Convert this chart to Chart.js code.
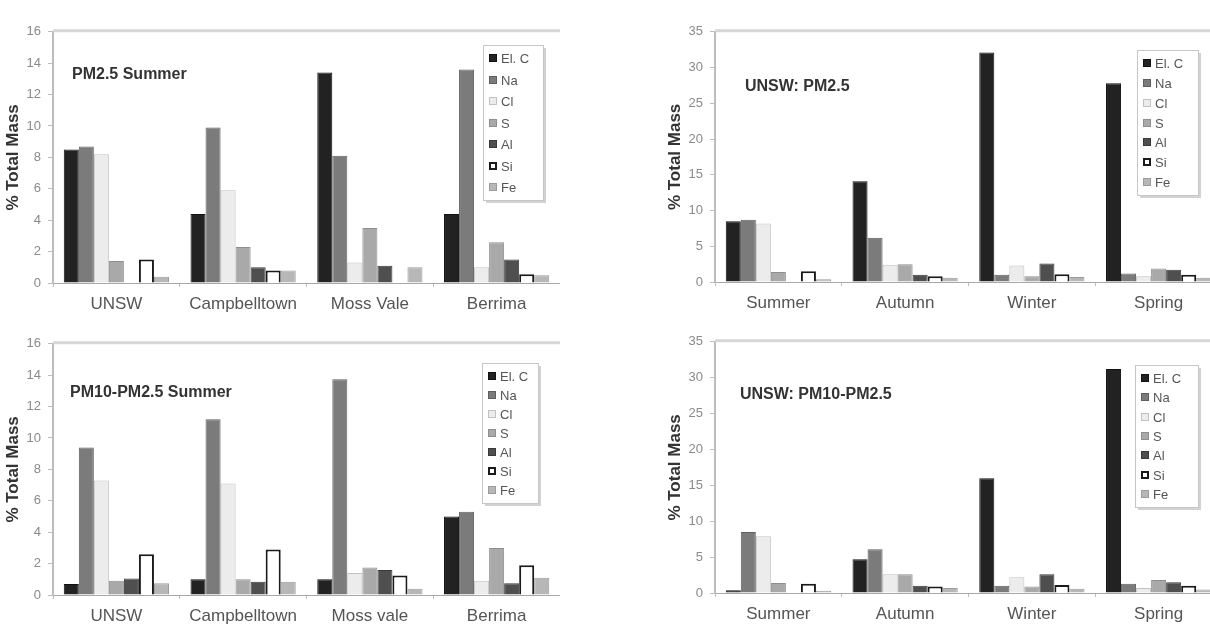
<!DOCTYPE html>
<html>
<head>
<meta charset="utf-8">
<script src="https://cdn.jsdelivr.net/npm/chart.js@4/dist/chart.umd.min.js"></script>
<style>
  html, body { margin: 0; padding: 0; background: #fff; overflow: hidden; width: 1210px; height: 624px; }
  .panel { position: absolute; }
</style>
</head>
<body>
<div class="panel" style="left:0;top:17px"><canvas id="pm25Sites" width="560" height="296"></canvas></div>
<div class="panel" style="left:662px;top:17px"><canvas id="pm25Seasons" width="560" height="295"></canvas></div>
<div class="panel" style="left:0;top:329px"><canvas id="coarseSites" width="560" height="296"></canvas></div>
<div class="panel" style="left:662px;top:327px"><canvas id="coarseSeasons" width="560" height="296"></canvas></div>
<script>
// Categories
const sitesFine = ['UNSW', 'Campbelltown', 'Moss Vale', 'Berrima'];
const sitesCoarse = ['UNSW', 'Campbelltown', 'Moss vale', 'Berrima'];
const seasons = ['Summer', 'Autumn', 'Winter', 'Spring'];
const species = ['El. C', 'Na', 'Cl', 'S', 'Al', 'Si', 'Fe'];

// PM2.5, summer, by site (% of total mass), one array per species
const fineSitesElC = [8.5, 4.4, 13.4, 4.4];
const fineSitesNa  = [8.7, 9.9, 8.1, 13.6];
const fineSitesCl  = [8.2, 5.9, 1.3, 1.0];
const fineSitesS   = [1.4, 2.3, 3.5, 2.6];
const fineSitesAl  = [0, 1.0, 1.1, 1.5];
const fineSitesSi  = [1.5, 0.8, 0, 0.55];
const fineSitesFe  = [0.4, 0.8, 1.0, 0.5];

// PM10-PM2.5, summer, by site
const coarseSitesElC = [0.7, 1.0, 1.0, 5.0];
const coarseSitesNa  = [9.4, 11.2, 13.75, 5.3];
const coarseSitesCl  = [7.3, 7.1, 1.4, 0.9];
const coarseSitesS   = [0.9, 1.0, 1.75, 3.0];
const coarseSitesAl  = [1.05, 0.85, 1.6, 0.75];
const coarseSitesSi  = [2.6, 2.9, 1.25, 1.9];
const coarseSitesFe  = [0.75, 0.85, 0.4, 1.1];

// UNSW PM2.5 by season
const fineSeasonElC = [8.5, 14.1, 32.1, 27.8];
const fineSeasonNa  = [8.7, 6.2, 1.0, 1.2];
const fineSeasonCl  = [8.2, 2.4, 2.3, 0.8];
const fineSeasonS   = [1.4, 2.5, 0.8, 1.9];
const fineSeasonAl  = [0, 1.0, 2.6, 1.7];
const fineSeasonSi  = [1.5, 0.8, 1.1, 1.0];
const fineSeasonFe  = [0.4, 0.6, 0.7, 0.6];

// UNSW PM10-PM2.5 by season
const coarseSeasonElC = [0.4, 4.7, 16.0, 31.2];
const coarseSeasonNa  = [8.5, 6.1, 1.0, 1.3];
const coarseSeasonCl  = [7.9, 2.6, 2.2, 0.7];
const coarseSeasonS   = [1.4, 2.6, 0.9, 1.8];
const coarseSeasonAl  = [0, 1.0, 2.6, 1.5];
const coarseSeasonSi  = [1.3, 0.9, 1.1, 1.0];
const coarseSeasonFe  = [0.3, 0.7, 0.6, 0.5];

// Y-axis ticks
const siteTicksMax = 16, siteTicksStep = 2;
const seasonTicksMax = 35, seasonTicksStep = 5;

const FONT = '"Liberation Sans", Arial, sans-serif';

// Fill / outline per species, in legend order
const speciesStyle = [
  { bg: '#222222', border: '#111111', w: 1 },
  { bg: '#7b7b7b', border: '#5f5f5f', w: 1 },
  { bg: '#ececec', border: '#c2c2c2', w: 1 },
  { bg: '#a9a9a9', border: '#8e8e8e', w: 1 },
  { bg: '#4f4f4f', border: '#3a3a3a', w: 1 },
  { bg: '#ffffff', border: '#1a1a1a', w: 2 },
  { bg: '#b7b7b7', border: '#9b9b9b', w: 1 }
];

function makeDatasets(series) {
  return series.map((values, i) => ({
    label: species[i],
    data: values,
    backgroundColor: speciesStyle[i].bg,
    borderColor: speciesStyle[i].border,
    borderWidth: speciesStyle[i].w,
    categoryPercentage: 0.83,
    barPercentage: 1.0
  }));
}

// In-plot title, top rule and boxed legend
const panelDecor = {
  id: 'panelDecor',
  afterDraw(chart, args, opts) {
    const { ctx, chartArea: a } = chart;
    ctx.save();
    ctx.strokeStyle = '#d6d6d6';
    ctx.lineWidth = 3;
    ctx.beginPath();
    ctx.moveTo(a.left, a.top - 1);
    ctx.lineTo(a.right, a.top - 1);
    ctx.stroke();

    ctx.font = 'bold 16px ' + FONT;
    ctx.fillStyle = '#333';
    ctx.textAlign = 'left';
    ctx.textBaseline = 'middle';
    ctx.fillText(opts.title, a.left + opts.titleX, a.top + opts.titleY);

    const L = opts.legend;
    const bx = Math.round(a.left + L.x), by = Math.round(a.top + L.y);
    ctx.fillStyle = '#d2d2d2';
    ctx.fillRect(bx + L.w, by + 3, 3, L.h);
    ctx.fillRect(bx + 3, by + L.h, L.w, 3);
    ctx.fillStyle = '#fff';
    ctx.fillRect(bx, by, L.w, L.h);
    ctx.strokeStyle = '#c6c6c6';
    ctx.lineWidth = 1;
    ctx.strokeRect(bx + 0.5, by + 0.5, L.w, L.h);
    const step = (L.h - 26) / 6;
    chart.data.datasets.forEach((ds, i) => {
      const cy = Math.round(by + 13 + i * step);
      ctx.fillStyle = ds.backgroundColor;
      ctx.fillRect(bx + 6, cy - 4, 8, 8);
      ctx.strokeStyle = ds.borderColor;
      ctx.lineWidth = ds.borderWidth;
      ctx.strokeRect(bx + 6 + ds.borderWidth / 2, cy - 4 + ds.borderWidth / 2, 8 - ds.borderWidth, 8 - ds.borderWidth);
      ctx.fillStyle = '#555';
      ctx.font = '13px ' + FONT;
      ctx.fillText(ds.label, bx + 18, cy + 1);
    });
    ctx.restore();
  }
};

function makeChart(id, labels, series, yMax, yStep, decor) {
  return new Chart(document.getElementById(id), {
    type: 'bar',
    data: { labels: labels, datasets: makeDatasets(series) },
    plugins: [panelDecor],
    options: {
      responsive: false,
      animation: false,
      layout: { padding: { top: 10, right: 0, bottom: 0, left: 0 } },
      plugins: {
        legend: { display: false },
        tooltip: { enabled: false },
        panelDecor: decor
      },
      scales: {
        x: {
          grid: { display: true, drawOnChartArea: false, drawTicks: true, tickLength: 4, color: '#bdbdbd' },
          border: { color: '#a8a8a8', width: 1 },
          ticks: { color: '#555', font: { family: FONT, size: 17 }, padding: 7, maxRotation: 0 },
          afterFit: s => { s.height = 30; }
        },
        y: {
          min: 0,
          max: yMax,
          ticks: { stepSize: yStep, color: '#8a8a8a', font: { family: FONT, size: 13 }, padding: 7 },
          grid: { drawOnChartArea: false, drawTicks: true, tickLength: 5, color: '#bdbdbd' },
          border: { color: '#bcbcbc', width: 2 },
          title: {
            display: true,
            text: '% Total Mass',
            color: '#333',
            font: { family: FONT, size: 17, weight: 'bold' },
            padding: { top: 3, bottom: 0 }
          },
          afterFit: s => { s.width = 53; }
        }
      }
    }
  });
}

makeChart('pm25Sites', sitesFine,
  [fineSitesElC, fineSitesNa, fineSitesCl, fineSitesS, fineSitesAl, fineSitesSi, fineSitesFe],
  siteTicksMax, siteTicksStep,
  { title: 'PM2.5 Summer', titleX: 19, titleY: 43, legend: { x: 430, y: 13, w: 60, h: 155 } });

makeChart('pm25Seasons', seasons,
  [fineSeasonElC, fineSeasonNa, fineSeasonCl, fineSeasonS, fineSeasonAl, fineSeasonSi, fineSeasonFe],
  seasonTicksMax, seasonTicksStep,
  { title: 'UNSW: PM2.5', titleX: 30, titleY: 55, legend: { x: 422, y: 18, w: 61, h: 145 } });

makeChart('coarseSites', sitesCoarse,
  [coarseSitesElC, coarseSitesNa, coarseSitesCl, coarseSitesS, coarseSitesAl, coarseSitesSi, coarseSitesFe],
  siteTicksMax, siteTicksStep,
  { title: 'PM10-PM2.5 Summer', titleX: 17, titleY: 49, legend: { x: 429, y: 19, w: 56, h: 140 } });

makeChart('coarseSeasons', seasons,
  [coarseSeasonElC, coarseSeasonNa, coarseSeasonCl, coarseSeasonS, coarseSeasonAl, coarseSeasonSi, coarseSeasonFe],
  seasonTicksMax, seasonTicksStep,
  { title: 'UNSW: PM10-PM2.5', titleX: 25, titleY: 53, legend: { x: 420, y: 23, w: 63, h: 142 } });
</script>
</body>
</html>
